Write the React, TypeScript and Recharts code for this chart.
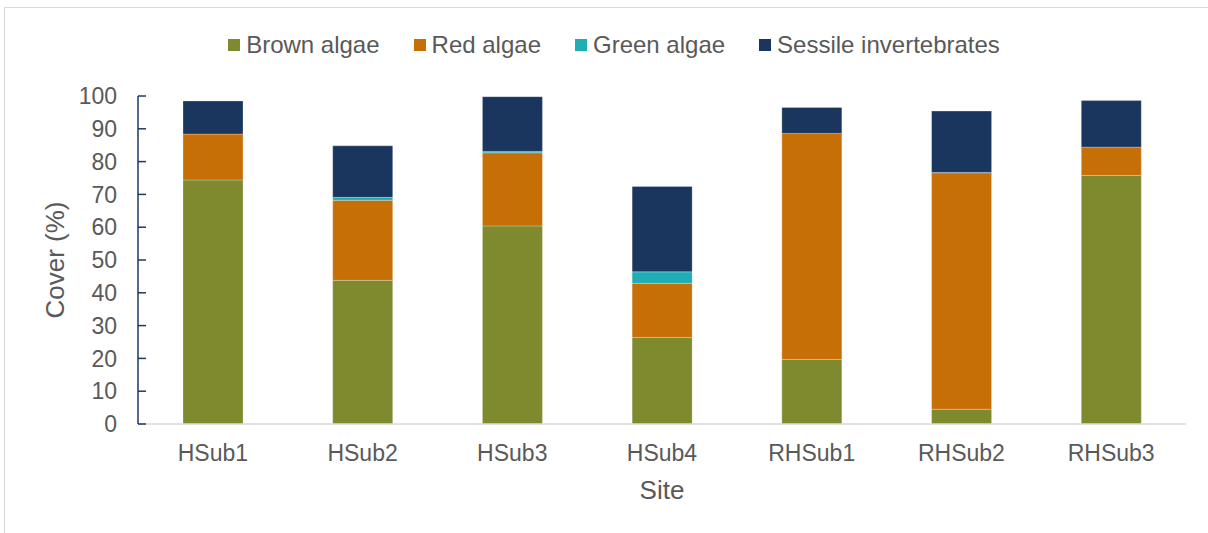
import React from "react";
import { BarChart, Bar, XAxis, YAxis, Legend } from "recharts";

// Percent cover by benthic group at each survey site
const sites = ["HSub1", "HSub2", "HSub3", "HSub4", "RHSub1", "RHSub2", "RHSub3"];
const brownAlgae = [74.4, 43.8, 60.4, 26.4, 19.7, 4.5, 75.8];
const redAlgae = [14.0, 24.4, 22.3, 16.5, 68.9, 72.1, 8.6];
const greenAlgae = [0, 0.9, 0.4, 3.5, 0, 0.1, 0];
const sessileInvertebrates = [10.1, 15.7, 16.7, 26.0, 7.9, 18.7, 14.2];
const yTicks = [0, 10, 20, 30, 40, 50, 60, 70, 80, 90, 100];

const series = [
  { key: "brown", name: "Brown algae", color: "#7f8a2e", values: brownAlgae },
  { key: "red", name: "Red algae", color: "#c76f07", values: redAlgae },
  { key: "green", name: "Green algae", color: "#1fadb6", values: greenAlgae },
  { key: "sessile", name: "Sessile invertebrates", color: "#1b365e", values: sessileInvertebrates },
];

const data = sites.map((site, i) => {
  const row: Record<string, string | number> = { site };
  series.forEach((s) => {
    row[s.key] = s.values[i];
  });
  return row;
});

const FONT = '"Liberation Sans", Arial, sans-serif';
const TEXT = "#595959";

const LegendContent = () => (
  <div
    style={{
      display: "flex",
      justifyContent: "center",
      alignItems: "center",
      height: 40,
      fontFamily: FONT,
      fontSize: 24,
      color: TEXT,
    }}
  >
    {series.map((s, i) => (
      <div
        key={s.key}
        style={{ display: "flex", alignItems: "center", marginLeft: i === 0 ? 0 : 34 }}
      >
        <span style={{ width: 12, height: 12, background: s.color, marginRight: 6, display: "inline-block" }} />
        <span>{s.name}</span>
      </div>
    ))}
  </div>
);

const CoverLabel = () => (
  <text
    x={64}
    y={260}
    transform="rotate(-90 64 260)"
    textAnchor="middle"
    fill={TEXT}
    fontFamily={FONT}
    fontSize={26}
  >
    Cover (%)
  </text>
);

const SiteLabel = (props: any) => {
  const vb = props.viewBox || {};
  return (
    <text
      x={vb.x + vb.width / 2}
      y={499}
      textAnchor="middle"
      fill={TEXT}
      fontFamily={FONT}
      fontSize={26}
    >
      Site
    </text>
  );
};

export default function App() {
  return (
    <div
      style={{
        position: "absolute",
        left: 0,
        top: 0,
        width: 1208,
        height: 533,
        overflow: "hidden",
        background: "#ffffff",
      }}
    >
      <div
        style={{
          position: "absolute",
          left: 4,
          top: 7,
          width: 1400,
          height: 700,
          border: "1.5px solid #d9d9d9",
          boxSizing: "border-box",
        }}
      />
      <div style={{ position: "absolute", left: 0, top: 0 }}>
        <BarChart
          width={1208}
          height={533}
          data={data}
          margin={{ top: 56, right: 22, bottom: 0, left: 0 }}
          barSize={60}
        >
          <Legend
            verticalAlign="top"
            content={<LegendContent />}
            wrapperStyle={{ top: 25, left: 0, width: 1228, height: 40 }}
          />
          <XAxis
            dataKey="site"
            height={109}
            tickSize={0}
            tickMargin={21}
            axisLine={{ stroke: "#d9d9d9", strokeWidth: 1.5 }}
            tick={{ fill: TEXT, fontFamily: FONT, fontSize: 23 }}
            label={<SiteLabel />}
          />
          <YAxis
            width={138}
            domain={[0, 100]}
            ticks={yTicks}
            interval={0}
            tickSize={-8}
            tickMargin={29}
            axisLine={{ stroke: "#1f3864", strokeWidth: 1.5 }}
            tickLine={{ stroke: "#1f3864", strokeWidth: 1.5 }}
            tick={{ fill: TEXT, fontFamily: FONT, fontSize: 23 }}
            label={<CoverLabel />}
          />
          {series.map((s) => (
            <Bar
              key={s.key}
              dataKey={s.key}
              name={s.name}
              stackId="cover"
              fill={s.color}
              stroke="#ffffff"
              strokeOpacity={0.5}
              strokeWidth={0.5}
              isAnimationActive={false}
            />
          ))}
        </BarChart>
      </div>
    </div>
  );
}
